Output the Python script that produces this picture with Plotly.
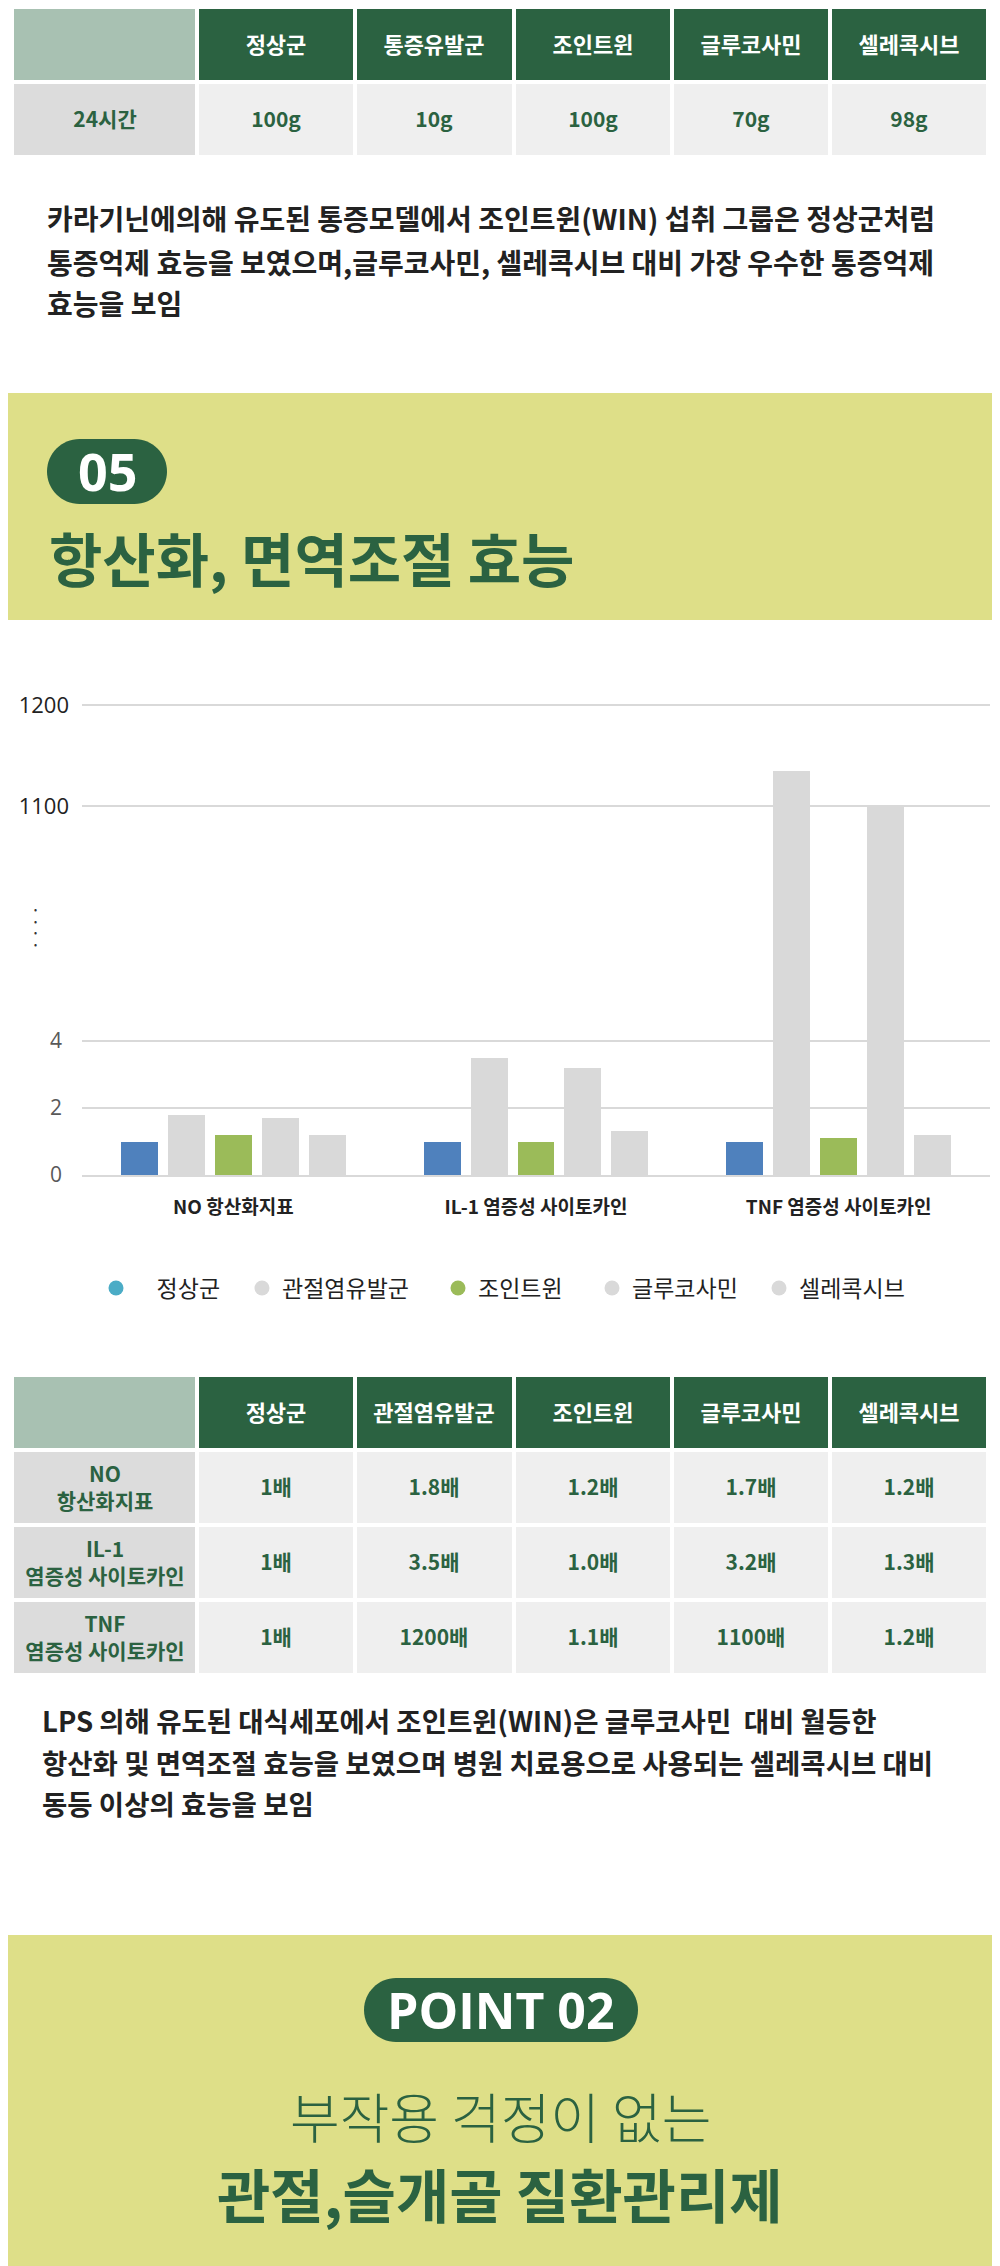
import plotly.graph_objects as go

W, H = 1000, 2266
OFF = 8  # the page body margin shifts the figure by this many pixels

# ---------------- data ----------------
categories = ["NO 항산화지표", "IL-1 염증성 사이토카인", "TNF 염증성 사이토카인"]
series_names = ["정상군", "관절염유발군", "조인트윈", "글루코사민", "셀레콕시브"]
normal = [1.0, 1.0, 1.0]
arthritis = [1.8, 3.5, 1135]
jointwin = [1.2, 1.0, 1.1]
glucosamine = [1.7, 3.2, 1100]
celecoxib = [1.2, 1.3, 1.2]
low_ticks = [0, 2, 4]
high_ticks = [1100, 1200]

table1_header = ["", "정상군", "통증유발군", "조인트윈", "글루코사민", "셀레콕시브"]
table1_row = ["24시간", "100g", "10g", "100g", "70g", "98g"]

table2_header = ["", "정상군", "관절염유발군", "조인트윈", "글루코사민", "셀레콕시브"]
table2_rows = ["NO<br>항산화지표", "IL-1<br>염증성 사이토카인", "TNF<br>염증성 사이토카인"]
table2_normal = ["1배", "1배", "1배"]
table2_arthritis = ["1.8배", "3.5배", "1200배"]
table2_jointwin = ["1.2배", "1.0배", "1.1배"]
table2_glucosamine = ["1.7배", "3.2배", "1100배"]
table2_celecoxib = ["1.2배", "1.3배", "1.2배"]

para1 = ["카라기닌에의해 유도된 통증모델에서 조인트윈(WIN) 섭취 그룹은 정상군처럼",
         "통증억제 효능을 보였으며,글루코사민, 셀레콕시브 대비 가장 우수한 통증억제",
         "효능을 보임"]
para2 = ["LPS 의해 유도된 대식세포에서 조인트윈(WIN)은 글루코사민  대비 월등한",
         "항산화 및 면역조절 효능을 보였으며 병원 치료용으로 사용되는 셀레콕시브 대비",
         "동등 이상의 효능을 보임"]

# ---------------- style ----------------
FONT = "Noto Sans CJK KR"
GREEN = "#2b6241"
YELLOW = "#dedf88"
BAR_COLORS = ["#4f81bd", "#d9d9d9", "#9bbb59", "#d9d9d9", "#d9d9d9"]
LEG_COLORS = ["#4bacc6", "#d9d9d9", "#9bbb59", "#d9d9d9", "#d9d9d9"]
GRID = "#d9d9d9"
NB = "\u00a0"
LEG_LEAD = [4, 0, 0, 0, 0]
LEG_MARKER_PX = [116, 262, 458, 612, 779]
ROW_PX = 75


def fy(p):
    return 1 - (p - OFF) / H


def fx(p):
    return (p - OFF) / W


# axis break geometry (pixels)
zero_px, low_ppu = 1175, 33.5
break_px = 924
low_top_px = break_px - 2      # lower panel overlaps upper slightly (no seam)
top_px = 690
hi_ref_px, hi_ref_val, hi_ppu = 806, 1100, 1.01
low_max = (zero_px - low_top_px) / low_ppu
hi_min = hi_ref_val - (break_px - hi_ref_px) / hi_ppu
hi_max = hi_ref_val + (hi_ref_px - top_px) / hi_ppu

fig = go.Figure()

series = [normal, arthritis, jointwin, glucosamine, celecoxib]
step, bw = 0.155, 0.122
for i, (name, vals) in enumerate(zip(series_names, series)):
    off = (i - 2) * step - bw / 2
    for ax in ["y", "y2"]:
        fig.add_trace(go.Bar(
            x=categories, y=vals, name=name, yaxis=ax, xaxis="x",
            offset=off, width=bw, marker=dict(color=BAR_COLORS[i], line=dict(width=0)),
            showlegend=False, hoverinfo="skip"))

legend_layouts = {}
for i, name in enumerate(series_names):
    lg = "legend" if i == 0 else f"legend{i + 1}"
    label = NB * LEG_LEAD[i] + name
    fig.add_trace(go.Scatter(
        x=[None], y=[None], mode="markers", name=label, legend=lg,
        marker=dict(size=15, color=LEG_COLORS[i], symbol="circle"),
        yaxis="y", xaxis="x", showlegend=True))
    legend_layouts[lg] = dict(orientation="h", x=fx(LEG_MARKER_PX[i] - 20), y=fy(1288),
                              xanchor="left", yanchor="middle",
                              font=dict(family=FONT, size=23, color="#222222"),
                              bgcolor="rgba(0,0,0,0)", itemwidth=30)

# ---------------- tables (heatmaps on hidden axes) ----------------
col_edges = [0, 185, 343, 501, 659, 817, 975]
CELL_SCALE = [[0, "#a8c1b2"], [0.1667, "#a8c1b2"], [0.1667, GREEN], [0.5, GREEN],
              [0.5, "#dcdcdc"], [0.8333, "#dcdcdc"], [0.8333, "#efefef"], [1, "#efefef"]]


def add_table(header, body_rows, xa, ya):
    n = len(body_rows)
    fig.add_trace(go.Heatmap(
        x=col_edges, y=[0, 1], z=[[0] + [1] * 5],
        text=[[f"<b>{h}</b>" if h else "" for h in header]], texttemplate="%{text}",
        textfont=dict(family=FONT, size=22, color="white"),
        colorscale=CELL_SCALE, zmin=0, zmax=3, showscale=False,
        xgap=4, ygap=4, hoverinfo="skip", xaxis=xa, yaxis=ya))
    fig.add_trace(go.Heatmap(
        x=col_edges, y=list(range(1, n + 2)), z=[[2] + [3] * 5 for _ in range(n)],
        text=[[f"<b>{v}</b>" for v in row] for row in body_rows], texttemplate="%{text}",
        textfont=dict(family=FONT, size=21, color=GREEN),
        colorscale=CELL_SCALE, zmin=0, zmax=3, showscale=False,
        xgap=4, ygap=4, hoverinfo="skip", xaxis=xa, yaxis=ya))


def table_axes(top_px_, nrows):
    """domain/range for a table whose first row starts at top_px_ (clamped to the paper)."""
    bottom = top_px_ + nrows * ROW_PX
    top_clamped = max(top_px_, OFF)
    start = (top_clamped - top_px_) / ROW_PX
    return dict(domain=[fy(bottom), min(1.0, fy(top_clamped))], range=[nrows, start])


add_table(table1_header, [table1_row], "x3", "y3")
add_table(table2_header,
          [list(r) for r in zip(table2_rows, table2_normal, table2_arthritis,
                                table2_jointwin, table2_glucosamine, table2_celecoxib)],
          "x4", "y4")

shapes = []
# yellow bands
shapes.append(dict(type="rect", xref="paper", yref="paper", x0=-0.05, x1=1.05,
                   y0=fy(620), y1=fy(393), fillcolor=YELLOW, line=dict(width=0), layer="below"))
shapes.append(dict(type="rect", xref="paper", yref="paper", x0=-0.05, x1=1.05,
                   y0=fy(H + OFF + 2), y1=fy(1935), fillcolor=YELLOW, line=dict(width=0),
                   layer="below"))


def pill(x0, y0, x1, y1):
    r = (y1 - y0) / 2
    k = 0.5523 * r
    P = lambda x, y: f"{fx(x):.5f},{fy(y):.5f}"
    d = f"M {P(x0 + r, y0)} L {P(x1 - r, y0)} "
    d += f"C {P(x1 - r + k, y0)} {P(x1, y0 + r - k)} {P(x1, y0 + r)} "
    d += f"C {P(x1, y0 + r + k)} {P(x1 - r + k, y1)} {P(x1 - r, y1)} "
    d += f"L {P(x0 + r, y1)} "
    d += f"C {P(x0 + r - k, y1)} {P(x0, y0 + r + k)} {P(x0, y0 + r)} "
    d += f"C {P(x0, y0 + r - k)} {P(x0 + r - k, y0)} {P(x0 + r, y0)} Z"
    return dict(type="path", xref="paper", yref="paper", path=d,
                fillcolor=GREEN, line=dict(width=0), layer="below")


shapes.append(pill(47, 439, 167, 504))
shapes.append(pill(364, 1978, 638, 2042))

annotations = []


def txt(x, y, s, size, color="#222222", weight="bold", xanchor="left", family=FONT):
    annotations.append(dict(x=fx(x), y=fy(y), xref="paper", yref="paper", text=s,
                            showarrow=False, xanchor=xanchor, yanchor="middle",
                            font=dict(family=family, size=size, color=color, weight=weight)))


for i, line in enumerate(para1):
    txt(45, [218, 262, 303][i], line, 28)
for i, line in enumerate(para2):
    txt(40, [1720, 1762, 1803][i], line, 27.5)

txt(107, 471, "05", 52, color="white", weight="bold", xanchor="center", family="Open Sans")
txt(47, 557, "항산화, 면역조절 효능", 58, color=GREEN)
txt(501, 2010, "POINT 02", 50, color="white", weight="bold", xanchor="center", family="Open Sans")
txt(500, 2115, "부작용 걱정이 없는", 54, color=GREEN, weight=300, xanchor="center")
txt(500, 2193, "관절,슬개골 질환관리제", 58, color=GREEN, weight="bold", xanchor="center")
# axis break marker
annotations.append(dict(x=fx(35), y=fy(927), xref="paper", yref="paper",
                        text="•<br>•<br>•<br>•", showarrow=False, xanchor="center",
                        yanchor="middle", font=dict(family=FONT, size=9, color="#333333")))

hidden = dict(visible=False, fixedrange=True, showgrid=False, zeroline=False, automargin=False)

fig.update_layout(
    width=W, height=H, margin=dict(l=0, r=0, t=0, b=0, autoexpand=False),
    paper_bgcolor="white", plot_bgcolor="rgba(0,0,0,0)",
    barmode="overlay", bargap=0,
    shapes=shapes, annotations=annotations,
    xaxis=dict(domain=[fx(82), fx(990)], type="category", anchor="y", automargin=False,
               showline=True, linecolor=GRID, linewidth=1.5, ticks="",
               tickvals=categories, ticktext=[f"<b>{c}</b>" for c in categories],
               tickfont=dict(family=FONT, size=19, color="#222222"),
               ticklabelstandoff=14, showgrid=False, fixedrange=True),
    yaxis=dict(domain=[fy(zero_px), fy(low_top_px)], range=[0, low_max], anchor="x",
               automargin=False,
               tickvals=low_ticks, showgrid=True, gridcolor=GRID, gridwidth=1.5,
               zeroline=False, showline=False, ticks="",
               tickfont=dict(family="Open Sans", size=21, color="#595959"),
               ticklabelstandoff=19, fixedrange=True),
    yaxis2=dict(domain=[fy(break_px), fy(top_px)], range=[hi_min, hi_max], anchor="x",
                automargin=False,
                tickvals=high_ticks, showgrid=True, gridcolor=GRID, gridwidth=1.5,
                zeroline=False, showline=False, ticks="",
                tickfont=dict(family="Open Sans", size=22, color="#222222"),
                ticklabelstandoff=12, fixedrange=True),
    xaxis3=dict(domain=[fx(12), fx(988)], range=[0, 975], anchor="y3", **hidden),
    yaxis3=dict(anchor="x3", **table_axes(7, 2), **hidden),
    xaxis4=dict(domain=[fx(12), fx(988)], range=[0, 975], anchor="y4", **hidden),
    yaxis4=dict(anchor="x4", **table_axes(1375, 4), **hidden),
    showlegend=True,
    **legend_layouts,
)

fig.write_html("out.html")
